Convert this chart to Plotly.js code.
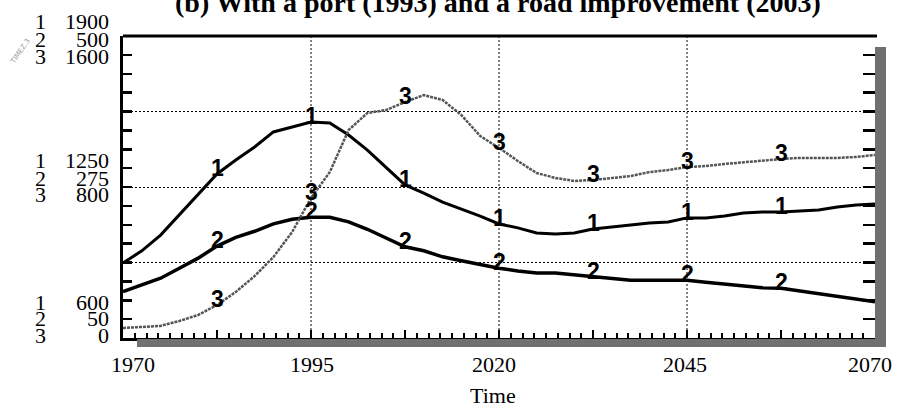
<!DOCTYPE html>
<html><head><meta charset="utf-8">
<script src="https://cdn.plot.ly/plotly-3.0.1.min.js"></script>
<style>html,body{margin:0;padding:0;background:#fff;overflow:hidden}</style>
</head><body>
<div id="chart" style="width:897px;height:409px"></div>
<script>
// ---- data ----
const years = [1970,1972.5,1975,1977.5,1980,1982.5,1985,1987.5,1990,1992.5,
  1995,1997.5,2000,2002.5,2005,2007.5,2010,2012.5,2015,2017.5,
  2020,2022.5,2025,2027.5,2030,2032.5,2035,2037.5,2040,2042.5,
  2045,2047.5,2050,2052.5,2055,2057.5,2060,2062.5,2065,2067.5,2070];
const series1 = [923,975,1043,1130,1216,1306,1366,1422,1487,1508,
  1530,1526,1474,1409,1336,1259,1224,1185,1155,1125,
  1091,1074,1052,1048,1052,1069,1078,1086,1095,1099,
  1117,1117,1125,1138,1142,1142,1147,1151,1164,1173,1177];
const series2 = [119,129,139,154,169,187,200,209,220,227,
  230,230,223,212,199,186,180,171,165,159,
  154,150,147,147,144,141,138,136,136,136,
  136,133,130,128,125,124,120,117,113,108,104];
const series3 = [53,58,64,90,122,175,244,328,429,562,
  742,879,1102,1192,1208,1250,1287,1261,1181,1070,
  1007,938,874,848,832,837,848,858,879,890,
  906,911,922,932,938,948,954,954,954,959,970];
const seriesNames = ['1','2','3'];
const s1Range = [600,1900], s2Range = [50,500], s3Range = [0,1600];
const s1AxisLabels = ['1900','1250','600'];
const s2AxisLabels = ['500','275','50'];
const s3AxisLabels = ['1600','800','0'];
const labelYears = [1982.5,1995,2007.5,2020,2032.5,2045,2057.5];
const xTickVals = [1970,1995,2020,2045,2070];
const xTickText = ['1970','1995','2020','2045','2070'];
const gridYears = [1995,2020,2045];
const titleText = '(b) With a port (1993) and a road improvement (2003)';
const xTitle = 'Time';

// ---- geometry helpers ----
const plotTop = 36, plotBottom = 338, plotLeft = 123, plotRight = 875;
const pH = plotBottom - plotTop, pW = plotRight - plotLeft;
const py = p => (plotBottom - p) / pH;   // pixel y -> paper y
const px = p => (p - plotLeft) / pW;     // pixel x -> paper x

const serif = 'Liberation Serif, Times New Roman, serif';
const traces = [
  {x: years, y: series1, yaxis: 'y', mode: 'lines', line: {color: '#000', width: 3}, hoverinfo: 'skip'},
  {x: years, y: series2, yaxis: 'y2', mode: 'lines', line: {color: '#000', width: 3.5}, hoverinfo: 'skip'},
  {x: years, y: series3, yaxis: 'y3', mode: 'lines', line: {color: '#555', width: 2.5, dash: '3px,1px'}, hoverinfo: 'skip'}
];

const annotations = [];
// curve number labels
const allSeries = [series1, series2, series3];
const yrefs = ['y','y2','y3'];
allSeries.forEach((s, k) => {
  labelYears.forEach(yr => {
    const i = years.indexOf(yr);
    annotations.push({x: yr, y: s[i], xref: 'x', yref: yrefs[k], text: seriesNames[k],
      showarrow: false, yshift: 6,
      font: {family: 'Liberation Sans Narrow, Liberation Sans, Arial, sans-serif', size: 23, color: '#000', weight: 'bold'}});
  });
});
// left stacked scale labels
const rowPix = [[21,39,56],[160,178,194],[302,318,335]];
const axisLabelSets = [s1AxisLabels, s2AxisLabels, s3AxisLabels];
for (let g = 0; g < 3; g++) {
  for (let k = 0; k < 3; k++) {
    const yy = py(rowPix[g][k]);
    annotations.push({xref: 'paper', yref: 'paper', x: px(40), y: yy, xanchor: 'center', yanchor: 'middle',
      text: seriesNames[k], showarrow: false, font: {family: serif, size: 22, color: '#000'}});
    annotations.push({xref: 'paper', yref: 'paper', x: px(111), y: yy, xanchor: 'right', yanchor: 'middle',
      text: axisLabelSets[k][g], showarrow: false, font: {family: serif, size: 22, color: '#000'}});
  }
}
// x tick labels
const xShift = [10, 1, -5, -2, -5];
xTickVals.forEach((v, i) => {
  annotations.push({x: v, xref: 'x', yref: 'paper', y: py(365), xanchor: 'center', yanchor: 'middle',
    xshift: xShift[i], text: xTickText[i], showarrow: false, font: {family: serif, size: 22, color: '#000'}});
});
// axis title
annotations.push({xref: 'paper', yref: 'paper', x: px(493), y: py(395), xanchor: 'center', yanchor: 'middle',
  text: xTitle, showarrow: false, font: {family: serif, size: 22, color: '#000'}});
// chart title (cut off at top as in the reference)
annotations.push({xref: 'paper', yref: 'paper', x: px(498), y: py(2), xanchor: 'center', yanchor: 'middle',
  text: '<b>' + titleText + '</b>', showarrow: false, font: {family: serif, size: 28, color: '#000'}});
// faint rotated scribble
annotations.push({xref: 'paper', yref: 'paper', x: px(20), y: py(52), xanchor: 'center', yanchor: 'middle',
  text: 'TIMEZ.3', textangle: -55, showarrow: false, font: {family: 'DejaVu Sans', size: 7, color: '#9a9a9a'}});

const shapes = [];
gridYears.forEach(g => shapes.push({type: 'line', xref: 'x', yref: 'paper', x0: g, x1: g, y0: 0, y1: 1,
  layer: 'below', line: {color: '#000', width: 1, dash: '2px,2px'}}));
// top border
shapes.push({type: 'line', xref: 'paper', yref: 'paper', x0: 0, x1: px(877), y0: 1, y1: 1, line: {color: '#000', width: 3}});
// bottom hatched bar
shapes.push({type: 'rect', xref: 'paper', yref: 'paper', x0: px(137), x1: px(886), y0: py(347), y1: py(339),
  fillcolor: '#707070', line: {width: 0}});
// right hatched bar
shapes.push({type: 'rect', xref: 'paper', yref: 'paper', x0: px(875), x1: px(886), y0: py(347), y1: py(47),
  fillcolor: '#707070', line: {width: 0}});

const layout = {
  width: 897, height: 409,
  margin: {l: plotLeft, r: 897 - plotRight, t: plotTop, b: 409 - plotBottom, pad: 0},
  paper_bgcolor: '#fff', plot_bgcolor: '#fff',
  showlegend: false,
  xaxis: {range: [1970, 2070], tickvals: [1970,1982.5,1995,2007.5,2020,2032.5,2045,2057.5,2070],
    ticks: 'inside', ticklen: 8, tickwidth: 2, tickcolor: '#000',
    minor: {dtick: 1.5625, tick0: 1970, ticks: 'inside', ticklen: 5, tickwidth: 2, tickcolor: '#000', showgrid: false},
    showgrid: false, zeroline: false, showticklabels: false, showline: true, linewidth: 3, linecolor: '#000', fixedrange: true},
  yaxis: {range: s1Range, tickvals: [925, 1250, 1575], showgrid: true, gridcolor: '#000', gridwidth: 1, griddash: '2px,2px',
    ticks: 'inside', ticklen: 9, tickwidth: 2.5, tickcolor: '#000',
    minor: {dtick: 81.25, tick0: 600, ticks: 'inside', ticklen: 9, tickwidth: 2.5, tickcolor: '#000', showgrid: false},
    zeroline: false, showticklabels: false, showline: true, linewidth: 3, linecolor: '#000', fixedrange: true},
  yaxis2: {range: s2Range, overlaying: 'y', visible: false, fixedrange: true},
  yaxis3: {range: s3Range, overlaying: 'y', side: 'right', dtick: 100, tick0: 0,
    ticks: 'inside', ticklen: 12, tickwidth: 2.5, tickcolor: '#000',
    showgrid: false, zeroline: false, showticklabels: false, showline: false, fixedrange: true},
  annotations: annotations,
  shapes: shapes
};

Plotly.newPlot('chart', traces, layout, {displayModeBar: false, staticPlot: true});
</script>
</body></html>
